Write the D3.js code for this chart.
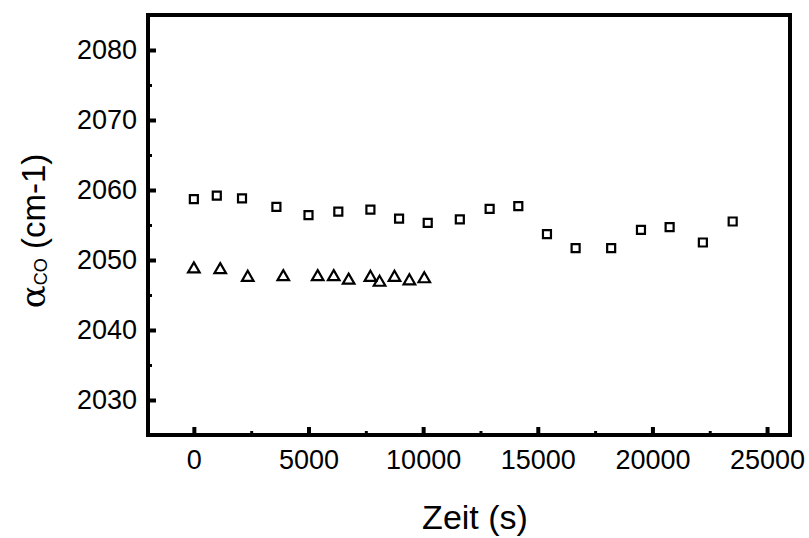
<!DOCTYPE html>
<html>
<head>
<meta charset="utf-8">
<script src="https://cdn.jsdelivr.net/npm/d3@7"></script>
<style>
  html, body { margin: 0; padding: 0; background: #fff; }
  svg { display: block; }
  text { font-family: Arial, "Liberation Sans", Helvetica, sans-serif; fill: #000; }
</style>
</head>
<body>
<svg id="chart" width="809" height="538"></svg>
<script>
// ---- data ----
const squareTime = [0, 1000, 2100, 3600, 5000, 6300, 7700, 8950, 10200, 11600, 12900, 14150, 15400, 16650, 18200, 19500, 20750, 22200, 23500];
const squareFreq = [2058.7, 2059.2, 2058.8, 2057.6, 2056.4, 2056.9, 2057.2, 2055.9, 2055.3, 2055.8, 2057.3, 2057.7, 2053.7, 2051.7, 2051.7, 2054.3, 2054.7, 2052.5, 2055.5];
const triangleTime = [0, 1150, 2350, 3900, 5400, 6100, 6750, 7700, 8100, 8750, 9400, 10050];
const triangleFreq = [2048.7, 2048.6, 2047.5, 2047.6, 2047.6, 2047.6, 2047.1, 2047.5, 2046.8, 2047.5, 2047.0, 2047.3];
const xTickValues = [0, 5000, 10000, 15000, 20000, 25000];
const xMinorTicks = [2500, 7500, 12500, 17500, 22500];
const yTickValues = [2030, 2040, 2050, 2060, 2070, 2080];
const yMinorTicks = [2035, 2045, 2055, 2065, 2075];
const xTitle = "Zeit (s)";

// ---- layout ----
const svg = d3.select("#chart");
const mLeft = 148, mRight = 790, mTop = 15, mBottom = 435;

const x = d3.scaleLinear().domain([-2000, 26000]).range([mLeft, mRight]);
const y = d3.scaleLinear().domain([2025, 2085]).range([mBottom, mTop]);

// minor ticks
svg.append("g")
  .attr("transform", `translate(0,${mBottom})`)
  .call(d3.axisBottom(x).tickValues(xMinorTicks).tickFormat("").tickSize(-4))
  .call(g => g.select(".domain").remove())
  .call(g => g.selectAll("line").attr("stroke", "#000").attr("stroke-width", 3));
svg.append("g")
  .attr("transform", `translate(${mLeft},0)`)
  .call(d3.axisLeft(y).tickValues(yMinorTicks).tickFormat("").tickSize(-4))
  .call(g => g.select(".domain").remove())
  .call(g => g.selectAll("line").attr("stroke", "#000").attr("stroke-width", 3));

// major axes
const xAxis = svg.append("g")
  .attr("transform", `translate(0,${mBottom})`)
  .call(d3.axisBottom(x).tickValues(xTickValues).tickFormat(d3.format("d")).tickSize(-8).tickPadding(15));
xAxis.select(".domain").remove();
xAxis.selectAll("line").attr("stroke", "#000").attr("stroke-width", 4);
xAxis.selectAll("text")
  .attr("font-size", 27)
  .attr("font-family", "Arial, 'Liberation Sans', sans-serif")
  .attr("fill", "#000");

const yAxis = svg.append("g")
  .attr("transform", `translate(${mLeft},0)`)
  .call(d3.axisLeft(y).tickValues(yTickValues).tickFormat(d3.format("d")).tickSize(-8).tickPadding(11));
yAxis.select(".domain").remove();
yAxis.selectAll("line").attr("stroke", "#000").attr("stroke-width", 4);
yAxis.selectAll("text")
  .attr("font-size", 27)
  .attr("font-family", "Arial, 'Liberation Sans', sans-serif")
  .attr("fill", "#000");

// frame
svg.append("rect")
  .attr("x", x.range()[0]).attr("y", y.range()[1])
  .attr("width", x.range()[1] - x.range()[0])
  .attr("height", y.range()[0] - y.range()[1])
  .attr("fill", "none").attr("stroke", "#000").attr("stroke-width", 4);

// markers
const sq = d3.symbol().type(d3.symbolSquare).size(64);
svg.append("g").selectAll("path")
  .data(squareTime.map((t, i) => [t, squareFreq[i]]))
  .join("path")
  .attr("d", sq)
  .attr("transform", d => `translate(${x(d[0])},${y(d[1])})`)
  .attr("fill", "none").attr("stroke", "#000").attr("stroke-width", 2.2);

const tri = d3.symbol().type(d3.symbolTriangle).size(58);
svg.append("g").selectAll("path")
  .data(triangleTime.map((t, i) => [t, triangleFreq[i]]))
  .join("path")
  .attr("d", tri)
  .attr("transform", d => `translate(${x(d[0])},${y(d[1])})`)
  .attr("fill", "none").attr("stroke", "#000").attr("stroke-width", 2.2).attr("stroke-linejoin", "miter");

// titles
svg.append("text")
  .attr("x", (mLeft + mRight) / 2 + 6).attr("y", 529)
  .attr("text-anchor", "middle")
  .attr("font-size", 34)
  .text(xTitle);

const yt = svg.append("text")
  .attr("transform", "translate(45,231) rotate(-90)")
  .attr("text-anchor", "middle")
  .attr("font-size", 33);
yt.append("tspan").attr("font-family", "'DejaVu Serif', 'Liberation Serif', serif").attr("font-size", 34).text("α");
yt.append("tspan").attr("font-size", 18).attr("dy", 2).text("CO");
yt.append("tspan").attr("dy", -2).text(" (cm-1)");
</script>
</body>
</html>
